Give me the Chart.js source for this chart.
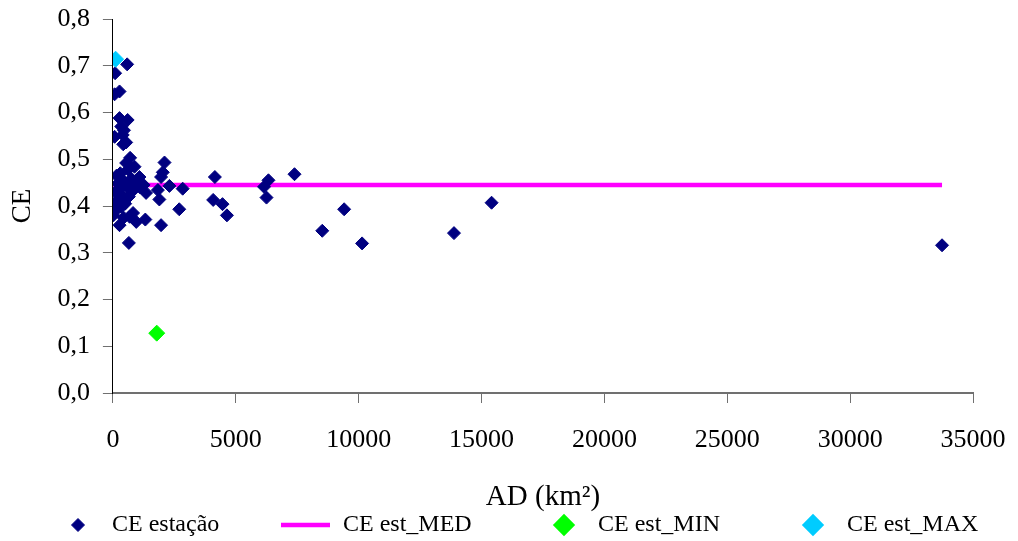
<!DOCTYPE html>
<html>
<head>
<meta charset="utf-8">
<script src="https://cdn.jsdelivr.net/npm/chart.js@4.4.1/dist/chart.umd.min.js"></script>
<style>
  html, body { margin: 0; padding: 0; background: #ffffff; }
</style>
</head>
<body>
<canvas id="ceChart" width="1018" height="541"></canvas>
<script>
// CE por estação versus área de drenagem AD (km²)
const stationAD = [
  580, 90, 70, 270, 270, 600, 340, 450, 70, 400, 540, 420,
  700, 540, 880, 620, 300, 150, 1080, 760, 420, 200, 950, 560, 300, 1350, 100, 800, 650, 400, 1100, 1250,
  2100, 2030, 1960, 2300, 2840, 1830, 1890, 2700, 1960,
  130, 340, 20, 680, 950, 1320, 270, 650, 200, 500, 820, 100, 440, 250,
  4150, 4080, 4460, 4640, 6330, 6150, 6250, 7390, 8520, 9410, 10140, 13880, 15410, 33740,
];
const stationCE = [
  0.703, 0.684, 0.639, 0.645, 0.588, 0.584, 0.570, 0.562, 0.548, 0.552, 0.536, 0.532,
  0.503, 0.492, 0.484, 0.478, 0.470, 0.465, 0.462, 0.458, 0.455, 0.448, 0.448, 0.442, 0.438, 0.428, 0.430, 0.432, 0.420, 0.422, 0.440, 0.445,
  0.493, 0.472, 0.462, 0.443, 0.437, 0.434, 0.414, 0.393, 0.359,
  0.409, 0.398, 0.380, 0.377, 0.366, 0.371, 0.359, 0.321, 0.395, 0.405, 0.385, 0.392, 0.375, 0.415,
  0.462, 0.413, 0.404, 0.380, 0.455, 0.441, 0.418, 0.468, 0.347, 0.393, 0.320, 0.342, 0.407, 0.316,
];
const medAD = [20, 33740];
const medCE = [0.445, 0.445];
const minAD = [1784];
const minCE = [0.128];
const maxAD = [110];
const maxCE = [0.714];

const xTickValues = [0, 5000, 10000, 15000, 20000, 25000, 30000, 35000];
const yTickValues = [0, 0.1, 0.2, 0.3, 0.4, 0.5, 0.6, 0.7, 0.8];
const yTickLabels = ["0,0", "0,1", "0,2", "0,3", "0,4", "0,5", "0,6", "0,7", "0,8"];

const toPoints = (xs, ys) => xs.map((x, i) => ({ x: x, y: ys[i] }));

const serif = '"Liberation Serif", "Times New Roman", serif';
Chart.defaults.font.family = serif;
Chart.defaults.color = "#000000";

// legend drawn under the axis title, text start of each entry
const legendTextX = [112, 343, 598, 847];
const legendY = 525;

const ceLegend = {
  id: "ceLegend",
  afterDraw(chart) {
    const ctx = chart.ctx;
    ctx.save();
    ctx.font = "24px " + serif;
    ctx.textBaseline = "middle";
    ctx.textAlign = "left";
    chart.data.datasets.forEach((ds, i) => {
      const tx = legendTextX[i];
      if (ds.showLine) {
        ctx.strokeStyle = ds.borderColor;
        ctx.lineWidth = ds.borderWidth;
        ctx.beginPath();
        ctx.moveTo(tx - 62, legendY);
        ctx.lineTo(tx - 13, legendY);
        ctx.stroke();
      } else {
        ctx.fillStyle = ds.backgroundColor;
        ctx.strokeStyle = ds.borderColor;
        Chart.helpers.drawPoint(ctx, { pointStyle: "rectRot", radius: ds.pointRadius, borderWidth: 1 }, tx - 34, legendY);
      }
      ctx.fillStyle = "#000000";
      ctx.fillText(ds.label, tx, legendY);
    });
    ctx.restore();
  },
};

const ctx = document.getElementById("ceChart").getContext("2d");
window.ceChart = new Chart(ctx, {
  type: "scatter",
  data: {
    datasets: [
      {
        label: "CE estação",
        data: toPoints(stationAD, stationCE),
        pointStyle: "rectRot",
        pointRadius: 6.5,
        pointHoverRadius: 6.5,
        backgroundColor: "#000080",
        borderColor: "#000080",
        borderWidth: 1,
        order: 2,
      },
      {
        label: "CE est_MED",
        data: toPoints(medAD, medCE),
        showLine: true,
        pointRadius: 0,
        borderColor: "#FF00FF",
        backgroundColor: "#FF00FF",
        borderWidth: 4.5,
        order: 3,
      },
      {
        label: "CE est_MIN",
        data: toPoints(minAD, minCE),
        pointStyle: "rectRot",
        pointRadius: 8,
        pointHoverRadius: 8,
        backgroundColor: "#00FF00",
        borderColor: "#00FF00",
        borderWidth: 1,
        order: 1,
      },
      {
        label: "CE est_MAX",
        data: toPoints(maxAD, maxCE),
        pointStyle: "rectRot",
        pointRadius: 8,
        pointHoverRadius: 8,
        backgroundColor: "#00CCFF",
        borderColor: "#00CCFF",
        borderWidth: 1,
        order: 0,
      },
    ],
  },
  options: {
    responsive: false,
    animation: false,
    layout: {
      padding: { top: 19, right: 45, bottom: 26, left: 0 },
    },
    scales: {
      x: {
        type: "linear",
        min: 0,
        max: 35000,
        afterBuildTicks: (scale) => {
          scale.ticks = xTickValues.map((v) => ({ value: v }));
        },
        afterFit: (scale) => {
          // tick padding should not widen the side margins
          scale.paddingLeft = 0;
          scale.paddingRight = 20;
        },
        grid: {
          drawOnChartArea: false,
          drawTicks: true,
          tickLength: 10,
          color: "#707070",
        },
        border: { display: true, color: "#707070", width: 2 },
        ticks: {
          padding: 22,
          maxRotation: 0,
          color: "#000000",
          font: { size: 26 },
          callback: (value) => String(value),
        },
        title: {
          display: true,
          text: "AD (km²)",
          color: "#000000",
          font: { size: 29 },
          padding: { top: 2, bottom: 0 },
        },
      },
      y: {
        type: "linear",
        min: 0,
        max: 0.8,
        afterBuildTicks: (scale) => {
          scale.ticks = yTickValues.map((v) => ({ value: v }));
        },
        afterFit: (scale) => {
          scale.paddingTop = 10;
          scale.paddingBottom = 10;
        },
        grid: {
          drawOnChartArea: false,
          drawTicks: true,
          tickLength: 10,
          color: "#707070",
        },
        border: { display: true, color: "#000000", width: 1 },
        ticks: {
          padding: 13,
          color: "#000000",
          font: { size: 26 },
          callback: (value, index) => yTickLabels[index],
        },
        title: {
          display: true,
          text: "CE",
          color: "#000000",
          font: { size: 27 },
          padding: { top: 7, bottom: 5 },
        },
      },
    },
    plugins: {
      legend: { display: false },
      tooltip: { enabled: false },
      title: { display: false },
    },
  },
  plugins: [ceLegend],
});
</script>
</body>
</html>
